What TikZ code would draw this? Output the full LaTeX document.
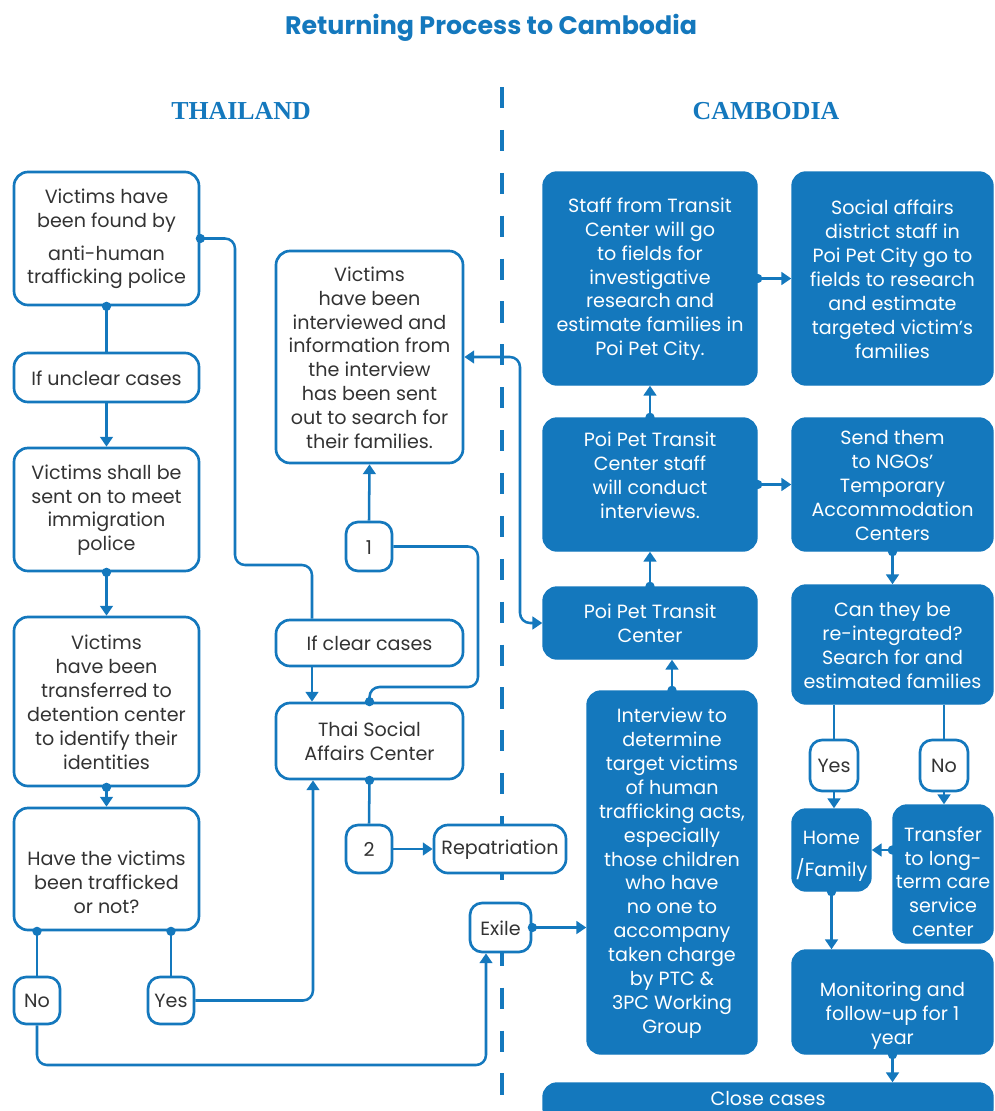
\documentclass[tikz,border=0pt]{standalone}
\usepackage{fontspec}
\setmainfont{Poppins}
\newfontfamily\hdserif{Liberation Serif}
\usetikzlibrary{arrows.meta,fit,calc}
\definecolor{myblue}{HTML}{1478BD}
\definecolor{txtgray}{HTML}{333333}
\newcommand\dgbody{\fontsize{13.6pt}{17pt}\selectfont}
\tikzset{
  obox/.style={draw=myblue, line width=1.9pt, rounded corners=0.35cm, fill=white, inner sep=0pt},
  sbox/.style={obox, rounded corners=0.3cm},
  fbox/.style={draw=myblue, line width=1pt, fill=myblue, rounded corners=0.35cm, inner sep=0pt},
  otx/.style={text=txtgray, font=\dgbody, align=center, inner sep=0pt, yshift=-0.5pt},
  ftx/.style={text=white, font=\dgbody, align=center, inner sep=0pt, yshift=-0.5pt},
  conn/.style={draw=myblue, line width=1.8pt, rounded corners=0.25cm},
  arr/.style={conn, -{Triangle[width=9pt,length=7pt]}},
  dot/.style={fill=myblue},
}
\begin{document}
\begin{tikzpicture}[x=0.025cm,y=-0.025cm]
\useasboundingbox (0,0) rectangle (994,1111);
% title and headers
\node[text=myblue, font=\fontsize{18pt}{20pt}\selectfont\bfseries] (title) at (491,28) {Returning Process to Cambodia};
\node[text=myblue, font=\hdserif\fontsize{18.4pt}{20pt}\selectfont\bfseries] (thai) at (241,111) {THAILAND};
\node[text=myblue, font=\hdserif\fontsize{18.4pt}{20pt}\selectfont\bfseries] (camb) at (766,111) {CAMBODIA};
% dashed border
\coordinate (dtop) at (502,87);
\coordinate (dbot) at (502,1111);
\draw[myblue, line width=3pt, dash pattern=on 15pt off 15.5pt] (dtop) -- (dbot);

% helper coordinates
\coordinate (gx312) at (312,0);
\coordinate (gx313) at (313,0);
\coordinate (gx520) at (520,0);
\coordinate (bend1) at (235,565);
\coordinate (bend2) at (478,687);
\coordinate (bend3) at (486,1065);

% Thailand left column
\node[obox, fit={(14,172)(199,305)}] (B1) {};
\node[otx] (B1t) at (B1.center) {Victims have\\been found by\\[6pt]anti-human\\trafficking police};
\node[obox, fit={(14,353)(199,402)}] (B2) {};
\node[otx] (B2t) at (B2.center) {If unclear cases};
\node[obox, fit={(14,448)(199,571)}] (B3) {};
\node[otx] (B3t) at (B3.center) {Victims shall be\\sent on to meet\\immigration\\police};
\node[obox, fit={(14,617)(199,786)}] (B4) {};
\node[otx] (B4t) at (B4.center) {Victims\\have been\\transferred to\\detention center\\to identify their\\identities};
\node[obox, fit={(14,808)(199,930)}] (B5) {};
\node[otx, yshift=-9pt] (B5t) at (B5.center) {Have the victims\\been trafficked\\or not?};
\node[sbox, fit={(14,977)(60,1024)}] (No) {};
\node[otx] (Not) at (No.center) {No};
\node[sbox, fit={(148,977)(194,1024)}] (Yes) {};
\node[otx] (Yest) at (Yes.center) {Yes};

% Thailand middle column
\node[obox, fit={(276,251)(463,463)}] (V) {};
\node[otx] (Vt) at (V.center) {Victims\\have been\\interviewed and\\information from\\the interview\\has been sent\\out to search for\\their families.};
\node[sbox, fit={(346,522)(392,571)}] (One) {};
\node[otx] (Onet) at (One.center) {1};
\node[obox, fit={(276,620)(463,666)}] (Clear) {};
\node[otx] (Cleart) at (Clear.center) {If clear cases};
\node[obox, fit={(276,703)(463,779)}] (Thai) {};
\node[otx] (Thait) at (Thai.center) {Thai Social\\Affairs Center};
\node[sbox, fit={(346,825)(392,873)}] (Two) {};
\node[otx] (Twot) at (Two.center) {2};
\node[obox, fit={(434,825)(566,873)}] (Rep) {};
\node[otx] (Rept) at (Rep.center) {Repatriation};
\node[sbox, fit={(470,903)(531,952)}] (Exile) {};
\node[otx] (Exilet) at (Exile.center) {Exile};

% Cambodia
\node[fbox, fit={(543,172)(757,385)}] (C1) {};
\node[ftx] (C1t) at (C1.center) {Staff from Transit\\Center will go\\to fields for\\investigative\\research and\\estimate families in\\Poi Pet City.};
\node[fbox, fit={(792,172)(993,385)}] (C2) {};
\node[ftx] (C2t) at (C2.center) {Social affairs\\district staff in\\Poi Pet City go to\\fields to research\\and estimate\\targeted victim’s\\families};
\node[fbox, fit={(543,418)(757,551)}] (C3) {};
\node[ftx, yshift=7pt] (C3t) at (C3.center) {Poi Pet Transit\\Center staff\\will conduct\\interviews.};
\node[fbox, fit={(792,418)(993,551)}] (C4) {};
\node[ftx] (C4t) at (C4.center) {Send them\\to NGOs’\\Temporary\\Accommodation\\Centers};
\node[fbox, fit={(543,587)(757,659)}] (C5) {};
\node[ftx] (C5t) at (C5.center) {Poi Pet Transit\\Center};
\node[fbox, fit={(792,585)(993,704)}] (C6) {};
\node[ftx] (C6t) at (C6.center) {Can they be\\re-integrated?\\Search for and\\estimated families};
\node[fbox, fit={(587,691)(757,1054)}] (C7) {};
\node[ftx] (C7t) at (C7.center) {Interview to\\determine\\target victims\\of human\\trafficking acts,\\especially\\those children\\who have\\no one to\\accompany\\taken charge\\by PTC \&\\3PC Working\\Group};
\node[sbox, fit={(810,740)(858,791)}] (YesR) {};
\node[otx] (YesRt) at (YesR.center) {Yes};
\node[sbox, fit={(920,740)(968,791)}] (NoR) {};
\node[otx] (NoRt) at (NoR.center) {No};
\node[fbox, fit={(792,809)(871,891)}] (C8) {};
\node[ftx, yshift=-4.2pt] (C8t) at (C8.center) {Home\\[6pt]/Family};
\node[fbox, fit={(893,805)(993,943)}] (C9) {};
\node[ftx, yshift=-5pt] (C9t) at (C9.center) {Transfer\\to long-\\term care\\service\\center};
\node[fbox, fit={(792,950)(993,1054)}] (C10) {};
\node[ftx, yshift=-9.2pt] (C10t) at (C10.center) {Monitoring and\\follow-up for 1\\year};
\node[fbox, fit={(543,1083)(993,1122)}] (C11) {};
\node[ftx, yshift=3.5pt] (C11t) at (C11.center) {Close cases};

% connectors, Thailand
\draw[conn] (B1.east) -| (bend1) -| (gx312 |- Clear.north);
\fill[dot] (B1.east) circle[radius=3.3pt];
\draw[conn] (B1.south) -- (B2.north);
\fill[dot] (B1.south) circle[radius=3.3pt];
\draw[arr] (B2.south) -- (B3.north);
\draw[arr] (B3.south) -- (B4.north);
\fill[dot] (B3.south) circle[radius=3.3pt];
\draw[arr] (B4.south) -- (B5.north);
\fill[dot] (B4.south) circle[radius=3.3pt];
\draw[conn] (No.north |- B5.south) -- (No.north);
\fill[dot] (No.north |- B5.south) circle[radius=3.3pt];
\draw[conn] (Yes.north |- B5.south) -- (Yes.north);
\fill[dot] (Yes.north |- B5.south) circle[radius=3.3pt];
\draw[arr] (No.south) |- (bend3) -- (bend3 |- Exile.south);
\draw[arr] (Yes.east) -| (gx313 |- Thai.south);
\draw[arr] (gx312 |- Clear.south) -- (gx312 |- Thai.north);
\draw[conn] (Thai.north) |- (bend2) |- (One.east);
\fill[dot] (Thai.north) circle[radius=3.3pt];
\draw[arr] (One.north) -- (V.south);
\draw[conn] (Thai.south) -- (Two.north);
\fill[dot] (Thai.south) circle[radius=3.3pt];
\draw[arr] (Two.east) -- (Rep.west);
\draw[arr] (Exile.east) -- (Exile.east -| C7.west);
\fill[dot] (Exile.east) circle[radius=3.3pt];
\draw[conn, {Triangle[width=9pt,length=7pt]}-{Triangle[width=9pt,length=7pt]}] (V.east) -| (gx520 |- C5.west) -- (C5.west);

% connectors, Cambodia
\draw[arr] (C1.east) -- (C2.west);
\fill[dot] (C1.east) circle[radius=3.3pt];
\draw[arr] (C3.north) -- (C1.south);
\fill[dot] (C3.north) circle[radius=3.3pt];
\draw[arr] (C3.east) -- (C4.west);
\fill[dot] (C3.east) circle[radius=3.3pt];
\draw[arr] (C5.north) -- (C3.south);
\fill[dot] (C5.north) circle[radius=3.3pt];
\draw[arr] (C7.north) -- (C7.north |- C5.south);
\fill[dot] (C7.north) circle[radius=3.3pt];
\draw[arr] (C4.south) -- (C6.north);
\fill[dot] (C4.south) circle[radius=3.3pt];
\draw[conn] (YesR.north |- C6.south) -- (YesR.north);
\draw[arr] (YesR.south) -- (YesR.south |- C8.north);
\draw[conn] (NoR.north |- C6.south) -- (NoR.north);
\draw[arr] (NoR.south) -- (NoR.south |- C9.north);
\draw[arr] (C9.west |- C8.east) -- (C8.east);
\fill[dot] (C9.west |- C8.east) circle[radius=3.3pt];
\draw[arr] (C8.south) -- (C8.south |- C10.north);
\fill[dot] (C8.south) circle[radius=3.3pt];
\draw[arr] (C10.south) -- (C10.south |- C11.north);
\fill[dot] (C10.south) circle[radius=3.3pt];
\end{tikzpicture}
\end{document}
